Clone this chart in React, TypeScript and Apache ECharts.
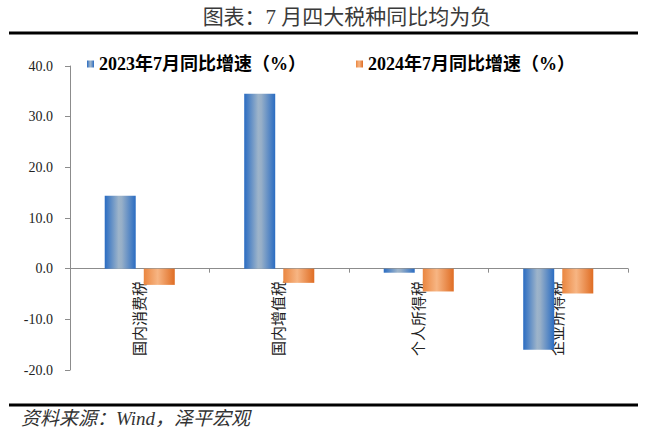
import React, { useEffect, useRef } from "react";
import * as echarts from "echarts";

const categories = ["国内消费税", "国内增值税", "个人所得税", "企业所得税"];
const series2023 = [14.4, 34.5, -0.8, -16.0];
const series2024 = [-3.2, -2.8, -4.5, -4.9];
const seriesNames = ["2023年7月同比增速（%）", "2024年7月同比增速（%）"];
const yTicks = { min: -20, max: 40, interval: 10 };
const titleText = "图表：7 月四大税种同比均为负";
const sourceText = "资料来源：Wind，泽平宏观";

const SERIF = '"Liberation Serif", "Noto Sans CJK SC", serif';

export default function App() {
  const ref = useRef<HTMLDivElement>(null);
  useEffect(() => {
    if (!ref.current) return;
    const chart = echarts.init(ref.current, null, { renderer: "svg" });
    const blue = new echarts.graphic.LinearGradient(0, 0, 1, 0, [
      { offset: 0, color: "#2a6cc2" },
      { offset: 0.45, color: "#9db4ca" },
      { offset: 0.55, color: "#97afc8" },
      { offset: 1, color: "#2a6cc2" },
    ]);
    const orange = new echarts.graphic.LinearGradient(0, 0, 1, 0, [
      { offset: 0, color: "#ea8640" },
      { offset: 0.45, color: "#f7b583" },
      { offset: 1, color: "#df6d24" },
    ]);
    const gridTop = 66;
    const gridBottom = 69;
    chart.setOption({
      animation: false,
      backgroundColor: "#ffffff",
      grid: { left: 70, right: 32, top: gridTop, bottom: gridBottom, containLabel: false, outerBoundsMode: "none" },
      legend: {
        left: 82,
        top: 50,
        itemWidth: 7,
        itemHeight: 7,
        itemGap: 50,
        icon: "rect",
        textStyle: { fontFamily: SERIF, fontSize: 18, fontWeight: "bold", color: "#000" },
        data: seriesNames,
      },
      xAxis: [
        {
          type: "category",
          data: categories,
          axisLine: { onZero: true, lineStyle: { color: "#8c8c8c", width: 1 } },
          axisTick: { show: true, length: 4, inside: false, lineStyle: { color: "#8c8c8c" } },
          axisLabel: { show: false },
        },
        {
          type: "category",
          data: categories,
          position: "bottom",
          offset: -101,
          axisLine: { show: false, onZero: false },
          axisTick: { show: false },
          axisLabel: {
            rotate: 90,
            margin: 12,
            fontFamily: SERIF,
            fontSize: 15,
            color: "#222",
          },
        },
      ],
      yAxis: {
        type: "value",
        min: yTicks.min,
        max: yTicks.max,
        interval: yTicks.interval,
        splitLine: { show: false },
        axisLine: { show: true, lineStyle: { color: "#8c8c8c", width: 1 } },
        axisTick: { show: true, length: 5, lineStyle: { color: "#8c8c8c" } },
        axisLabel: {
          margin: 17,
          fontFamily: SERIF,
          fontSize: 14,
          color: "#222",
          formatter: (v: number) => v.toFixed(1),
        },
      },
      series: [
        {
          name: seriesNames[0],
          type: "bar",
          data: series2023,
          barWidth: 31,
          barGap: "26%",
          itemStyle: { color: blue },
        },
        {
          name: seriesNames[1],
          type: "bar",
          data: series2024,
          barWidth: 31,
          itemStyle: { color: orange },
        },
      ],
      graphic: [
        {
          type: "text",
          x: 347,
          y: 6,
          style: {
            text: titleText,
            font: `21px ${SERIF}`,
            fill: "#3a3a3a",
            textAlign: "center",
          },
        },
        {
          type: "line",
          shape: { x1: 9, y1: 33, x2: 638, y2: 33 },
          style: { stroke: "#000", lineWidth: 3 },
        },
        {
          type: "line",
          shape: { x1: 9, y1: 405, x2: 638, y2: 405 },
          style: { stroke: "#000", lineWidth: 3 },
        },
        {
          type: "text",
          x: 21,
          y: 409,
          style: {
            text: sourceText,
            font: `italic 19px ${SERIF}`,
            fill: "#333",
          },
        },
      ],
    });
    return () => chart.dispose();
  }, []);
  return <div ref={ref} style={{ width: 660, height: 439, position: "absolute", left: 0, top: 0 }} />;
}
